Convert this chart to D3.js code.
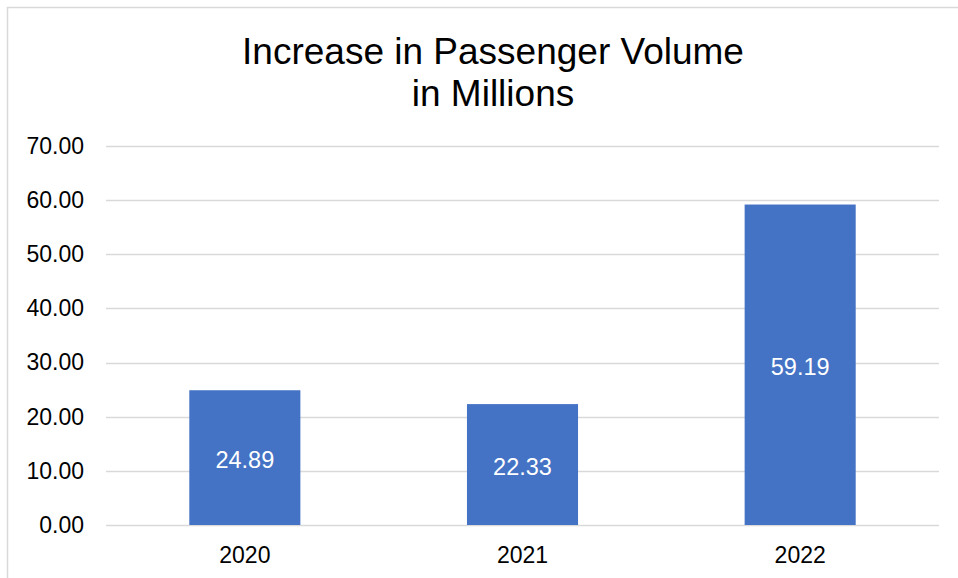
<!DOCTYPE html>
<html>
<head>
<meta charset="utf-8">
<script src="https://cdn.jsdelivr.net/npm/d3@7"></script>
<style>
  html, body { margin: 0; padding: 0; background: #fff; }
  svg { display: block; font-family: "Liberation Sans", Arial, sans-serif; }
</style>
</head>
<body>
<svg id="chart" width="958" height="578"></svg>
<script>
const categories = ["2020", "2021", "2022"];
const values = [24.89, 22.33, 59.19];
const yTicks = [0, 10, 20, 30, 40, 50, 60, 70];
const titleLines = ["Increase in Passenger Volume", "in Millions"];

const svg = d3.select("#chart");
const W = 958, H = 578;

// chart border (extends beyond the visible frame on right/bottom)
svg.append("rect")
  .attr("x", 7.5).attr("y", 7.5)
  .attr("width", 1200).attr("height", 1200)
  .attr("fill", "#fff")
  .attr("stroke", "#d9d9d9").attr("stroke-width", 1.5);

const plot = { left: 106, right: 939, top: 146, bottom: 525 };

const x = d3.scaleBand().domain(categories).range([plot.left, plot.right]).padding(0);
const y = d3.scaleLinear().domain([0, 70]).range([plot.bottom, plot.top]);

// title
svg.append("text")
  .attr("x", 493).attr("y", 64)
  .attr("text-anchor", "middle")
  .attr("font-size", 37)
  .attr("fill", "#000")
  .selectAll("tspan")
  .data(titleLines)
  .join("tspan")
  .attr("x", 493)
  .attr("dy", (d, i) => i === 0 ? 0 : 42)
  .text(d => d);

// gridlines
svg.append("g")
  .selectAll("line")
  .data(yTicks)
  .join("line")
  .attr("x1", plot.left).attr("x2", plot.right)
  .attr("y1", d => Math.round(y(d)) + 0.5).attr("y2", d => Math.round(y(d)) + 0.5)
  .attr("stroke", "#d9d9d9").attr("stroke-width", 1.5);

// y axis labels
const yAxis = d3.axisLeft(y).tickValues(yTicks).tickFormat(d3.format(".2f")).tickSize(0).tickPadding(0);
const gy = svg.append("g").attr("transform", `translate(84,0)`).call(yAxis);
gy.select(".domain").remove();
gy.selectAll("text").attr("font-size", 23).attr("fill", "#000")
  .attr("font-family", "Liberation Sans, Arial, sans-serif");

// bars
const barW = x.bandwidth() * 0.4;
svg.append("g")
  .selectAll("rect")
  .data(values)
  .join("rect")
  .attr("x", (d, i) => x(categories[i]) + x.bandwidth() / 2 - barW / 2)
  .attr("width", barW)
  .attr("y", d => y(d))
  .attr("height", d => y(0) - y(d))
  .attr("fill", "#4472C4");

// data labels
svg.append("g")
  .selectAll("text")
  .data(values)
  .join("text")
  .attr("x", (d, i) => x(categories[i]) + x.bandwidth() / 2)
  .attr("y", d => (y(d) + y(0)) / 2 + 2)
  .attr("dy", "0.35em")
  .attr("text-anchor", "middle")
  .attr("font-size", 23.5)
  .attr("fill", "#fff")
  .text(d => d3.format(".2f")(d));

// x axis labels
const xAxis = d3.axisBottom(x).tickSize(0).tickPadding(0);
const gx = svg.append("g").attr("transform", `translate(0,${plot.bottom})`).call(xAxis);
gx.select(".domain").remove();
gx.selectAll("text").attr("font-size", 23).attr("fill", "#000")
  .attr("font-family", "Liberation Sans, Arial, sans-serif")
  .attr("dy", null).attr("y", 38);
</script>
</body>
</html>
